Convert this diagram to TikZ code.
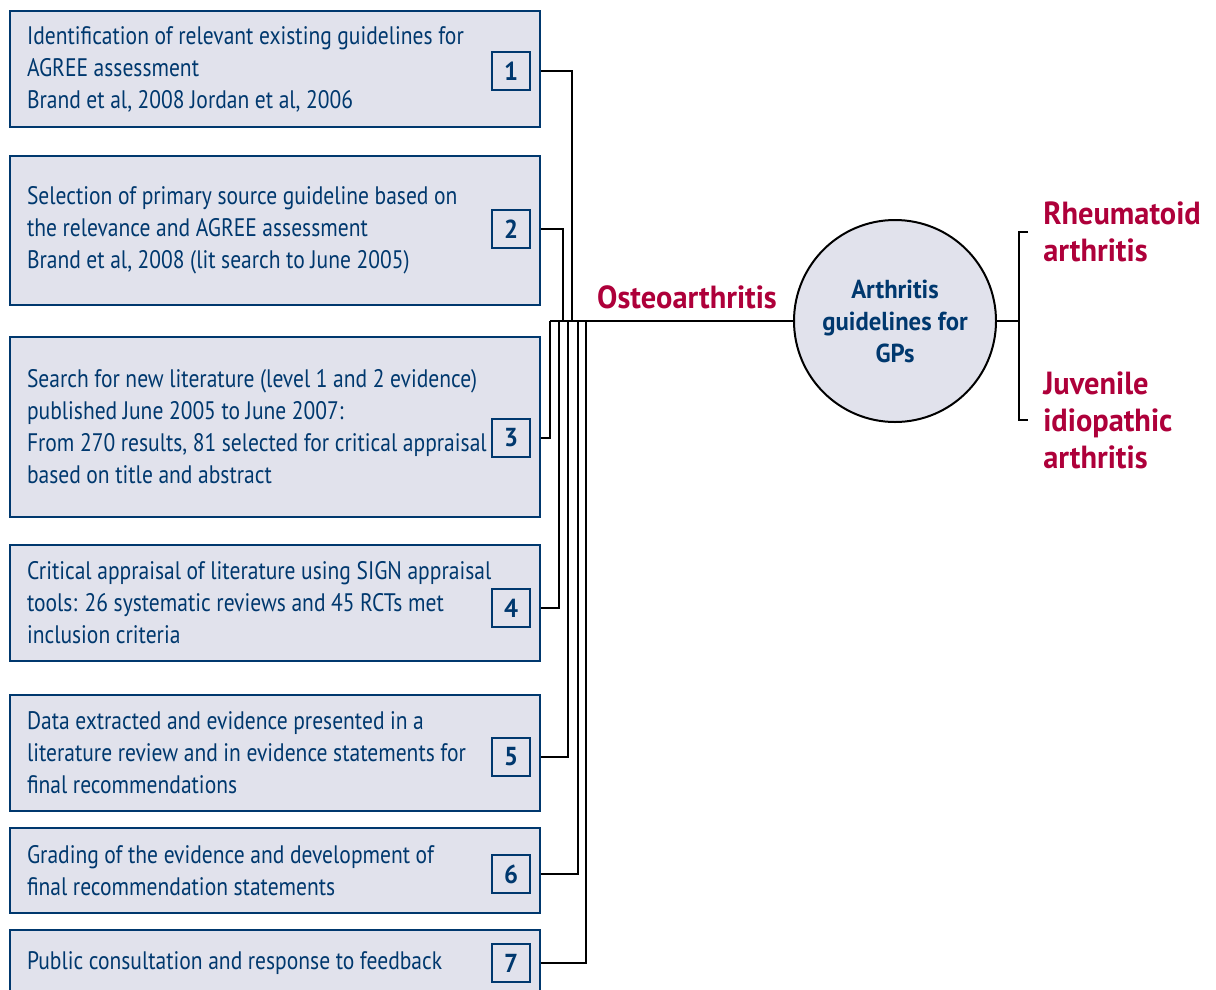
\documentclass[tikz,border=0pt]{standalone}
\usepackage{fontspec}
\setmainfont[FakeStretch=0.85]{PT Sans}
\newfontfamily\labelfont[FakeStretch=0.95]{PT Sans Bold}
\newcommand\stepfont{\fontsize{19}{24}\selectfont\spaceskip=0.22em plus 0.05em\relax}
\definecolor{stepfill}{RGB}{225,226,236}
\definecolor{stepblue}{RGB}{0,56,110}
\definecolor{diseasered}{RGB}{174,0,58}
\tikzset{
  stepbox/.style={draw=stepblue, line width=2.2pt, fill=stepfill, minimum width=397.5pt,
    inner xsep=12.75pt, text width=372pt, align=flush left, text=stepblue,
    font=\stepfont},
  numbox/.style={draw=stepblue, line width=1.9pt, minimum size=28.5pt, inner sep=0pt,
    text=stepblue, font=\labelfont\fontsize{19.5}{19.5}\selectfont},
  hub/.style={circle, draw=black, line width=1.5pt, fill=stepfill, minimum size=151.5pt,
    inner sep=0pt, align=center, text=stepblue, font=\labelfont\fontsize{19.5}{24}\selectfont},
  disease/.style={text=diseasered, align=flush left, inner xsep=11.25pt,
    font=\labelfont\fontsize{24}{27.75}\selectfont},
  wire/.style={draw=black, line width=1.7pt}
}
\begin{document}
\begin{tikzpicture}[x=0.75pt,y=0.75pt,yscale=-1,xscale=1]
\useasboundingbox (0,0) rectangle (1216,989);
%Step boxes
\node [stepbox, minimum height=87pt] (s1) at (275,69) {Identification of relevant existing guidelines for\\AGREE assessment\\Brand et al, 2008 Jordan et al, 2006};
\node [stepbox, minimum height=111.75pt] (s2) at (275,230.5) {Selection of primary source guideline based on\\the relevance and AGREE assessment\\Brand et al, 2008 (lit search to June 2005)};
\node [stepbox, minimum height=135pt] (s3) at (275,427) {Search for new literature (level 1 and 2 evidence)\\published June 2005 to June 2007:\\From 270 results, 81 selected for critical appraisal\\based on title and abstract};
\node [stepbox, minimum height=87pt] (s4) at (275,603) {Critical appraisal of literature using SIGN appraisal\\tools: 26 systematic reviews and 45 RCTs met\\inclusion criteria};
\node [stepbox, minimum height=87pt] (s5) at (275,753) {Data extracted and evidence presented in a\\literature review and in evidence statements for\\final recommendations};
\node [stepbox, minimum height=63.75pt] (s6) at (275,870.5) {Grading of the evidence and development of\\final recommendation statements};
\node [stepbox, minimum height=49.5pt] (s7) at (275,963) {Public consultation and response to feedback};

%Number boxes
\node [numbox] (n1) at (511,71) {1};
\node [numbox] (n2) at (511,229) {2};
\node [numbox] (n3) at (511,438) {3};
\node [numbox] (n4) at (511,608) {4};
\node [numbox] (n5) at (511,757) {5};
\node [numbox] (n6) at (511,874) {6};
\node [numbox] (n7) at (511,963) {7};

%Hub and labels
\node [hub] (hub) at (895,321) {Arthritis\\guidelines for\\GPs};
% Text Node
\node [disease, inner xsep=0pt] (oa) at (687,297) {Osteoarthritis};
% Text Node
\node [disease, anchor=west] (ra) at (1028,232) {Rheumatoid\\arthritis};
% Text Node
\node [disease, anchor=west] (jia) at (1028,420) {Juvenile\\idiopathic\\arthritis};

%Connectors
\coordinate (bus) at (550,321);
\coordinate (fork) at (1019,321);
\draw [wire] (n1 -| s1.east) -| ([xshift=16.5pt]bus);
\draw [wire] (n2 -| s2.east) -| ([xshift=9.75pt]bus);
\draw [wire] (n3 -| s3.east) -| (bus);
\draw [wire] (n4 -| s4.east) -| ([xshift=6.75pt]bus);
\draw [wire] (n5 -| s5.east) -| ([xshift=13.5pt]bus);
\draw [wire] (n6 -| s6.east) -| ([xshift=21pt]bus);
\draw [wire] (n7 -| s7.east) -| ([xshift=27pt]bus);
\draw [wire] (bus) -- (hub.west);
\draw [wire] (hub.east) -- (fork);
\draw [wire] (ra.west) -| (fork) |- (jia.west);
\end{tikzpicture}
\end{document}
